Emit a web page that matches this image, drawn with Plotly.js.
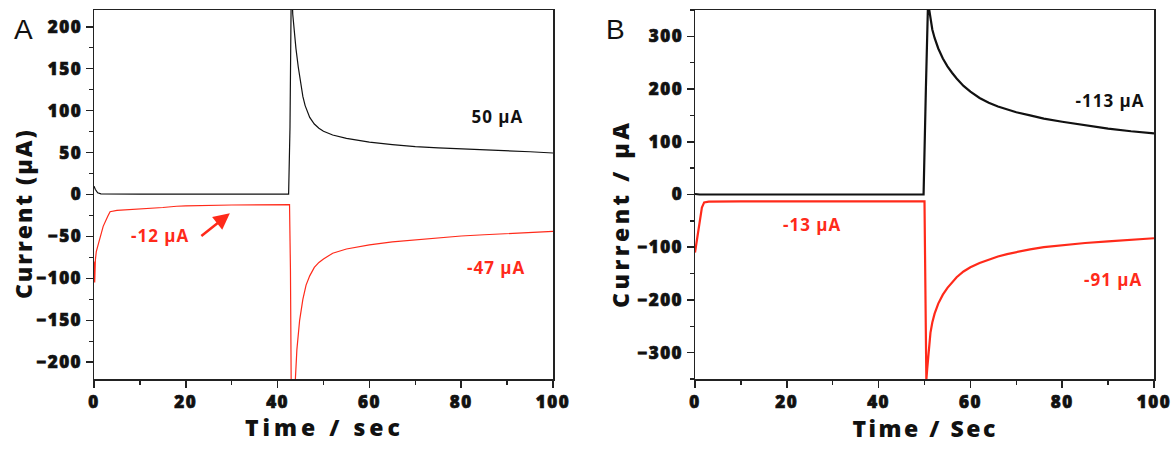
<!DOCTYPE html>
<html>
<head>
<meta charset="utf-8">
<script src="https://cdn.plot.ly/plotly-3.0.1.min.js"></script>
<style>
  html, body { margin: 0; padding: 0; background: #fff; }
  #chart { width: 1174px; height: 449px; }
  g[class*="tick"] > text, text[class*="tick"] { stroke: #111 !important; stroke-width: 0.7px !important; letter-spacing: 1.5px; }
  .annotation[data-index="0"] text { letter-spacing: 4px; }
  .annotation[data-index="1"] text { letter-spacing: 2.5px; }
  .annotation[data-index="2"] text { letter-spacing: 2px; }
  .annotation[data-index="3"] text { letter-spacing: 3.5px; }
  .annotation[data-index="6"] text, .annotation[data-index="7"] text, .annotation[data-index="8"] text,
  .annotation[data-index="10"] text, .annotation[data-index="11"] text, .annotation[data-index="12"] text { letter-spacing: 1px; }
</style>
</head>
<body>
<div id="chart"></div>
<script>
// ---- Panel A data (Time / sec, Current µA) ----
const tA_black = [0, 0.3, 0.8, 1.5, 10, 20, 30, 40, 42.4, 42.7, 43.0, 43.3, 43.7, 44, 44.5, 45, 45.5, 46, 47, 48, 49, 50, 52, 55, 60, 65, 70, 75, 80, 85, 90, 95, 100];
const iA_black = [10, 6, 2, 0.8, 0.5, 0.5, 0.5, 0.5, 0.5, 80, 260, 215, 190, 174, 152, 132, 117, 106, 92, 84, 79, 75.5, 71, 67, 62.5, 59.5, 57, 55.5, 54.5, 53, 52, 51, 49.5];

const tA_red = [0, 0.15, 0.3, 0.5, 1, 2, 3, 3.5, 5, 10, 15, 18, 20, 30, 42.6, 42.8, 43.0, 43.5, 43.8, 44.2, 44.8, 45.5, 46.2, 47, 48, 49, 50, 52, 55, 60, 65, 70, 75, 80, 85, 90, 95, 100];
const iA_red = [-80, -105, -78, -68, -58, -38, -26, -20.5, -19, -17.5, -15.5, -14, -13.5, -12.5, -12, -90, -260, -260, -220, -185, -150, -125, -108, -97, -87, -81, -77, -70, -65, -60, -56.5, -54, -51.5, -49.5, -48, -46.5, -45, -44];

// ---- Panel B data ----
const tB_black = [0, 1, 10, 20, 30, 40, 49.8, 50.3, 50.8, 51.0, 51.3, 51.7, 52.2, 53, 54, 55, 56, 57, 58.5, 60, 62, 64, 66, 68, 70, 73, 76, 80, 85, 90, 95, 100];
const iB_black = [1, 0, 0, 0, 0, 0, 0, 200, 375, 352, 332, 313, 297, 277, 258, 243, 231, 220, 206, 195, 183, 174, 167, 161, 156, 150, 144, 138, 131, 125, 120, 116];

const tB_red = [0, 0.5, 1, 1.5, 2, 3, 10, 20, 30, 40, 50, 50.1, 50.4, 50.6, 50.8, 51.0, 51.3, 51.7, 52.2, 53, 54, 55, 56, 57, 58.5, 60, 62, 64, 66, 68, 70, 73, 76, 80, 85, 90, 95, 100];
const iB_red = [-110, -80, -50, -25, -15, -13.5, -13, -13, -13, -13, -13, -100, -352, -330, -305, -285, -262, -243, -226, -207, -190, -177, -166, -157, -146, -138, -130, -123, -117.5, -113, -109, -104, -100, -96, -92, -89, -86, -83];

// ---- labels ----
const labelsA = ["50 μA", "-47 μA", "-12 μA"];
const labelsB = ["-113 μA", "-91 μA", "-13 μA"];
const xTitles = ["Time / sec", "Time / Sec"];
const yTitles = ["Current (μA)", "Current / μA"];
const panelLabels = ["A", "B"];

const RED = '#ff2a1a';
const BLACK = '#111111';
const FONT = 'Open Sans';

const traces = [
  { x: tA_black, y: iA_black, xaxis: 'x', yaxis: 'y', mode: 'lines', line: { color: BLACK, width: 1.2 }, hoverinfo: 'skip' },
  { x: tA_red, y: iA_red, xaxis: 'x', yaxis: 'y', mode: 'lines', line: { color: RED, width: 1.2 }, hoverinfo: 'skip' },
  { x: tB_black, y: iB_black, xaxis: 'x2', yaxis: 'y2', mode: 'lines', line: { color: BLACK, width: 2.2 }, hoverinfo: 'skip' },
  { x: tB_red, y: iB_red, xaxis: 'x2', yaxis: 'y2', mode: 'lines', line: { color: RED, width: 2.2 }, hoverinfo: 'skip' }
];

function tickFont() { return { family: FONT, size: 17, color: '#111', weight: 800 }; }
function xAxis(domain, anchor) {
  return {
    domain: domain, anchor: anchor, range: [0, 100], dtick: 20, tick0: 0,
    showline: true, mirror: true, linecolor: '#222', linewidth: 1.5,
    ticks: 'outside', ticklen: 7, tickwidth: 1.5, tickcolor: '#222',
    minor: { dtick: 10, ticks: 'outside', ticklen: 4, tickwidth: 1.5, tickcolor: '#222' },
    showgrid: false, zeroline: false, tickfont: tickFont()
  };
}
function yAxis(range, dtick, anchor) {
  return {
    domain: [0, 1], anchor: anchor, range: range, dtick: dtick, tick0: 0,
    showline: true, mirror: true, linecolor: '#222', linewidth: 1.5,
    ticks: 'outside', ticklen: 7, tickwidth: 1.5, tickcolor: '#222',
    minor: { dtick: dtick / 2, ticks: 'outside', ticklen: 4, tickwidth: 1.5, tickcolor: '#222' },
    showgrid: false, zeroline: false, tickfont: tickFont()
  };
}

function titleFont() { return { family: FONT, size: 23, color: '#111', weight: 800 }; }
function labFont(c) { return { family: FONT, size: 17, weight: 700, color: c }; }

const annotations = [
  { xref: 'paper', yref: 'paper', x: 0.2768, y: -0.130, text: xTitles[0], showarrow: false, font: titleFont(), xanchor: 'center', yanchor: 'middle' },
  { xref: 'paper', yref: 'paper', x: 0.7879, y: -0.133, text: xTitles[1], showarrow: false, font: titleFont(), xanchor: 'center', yanchor: 'middle' },
  { xref: 'paper', yref: 'paper', x: 0.0196, y: 0.447, text: yTitles[0], showarrow: false, font: titleFont(), textangle: -90, xanchor: 'center', yanchor: 'middle' },
  { xref: 'paper', yref: 'paper', x: 0.5281, y: 0.450, text: yTitles[1], showarrow: false, font: titleFont(), textangle: -90, xanchor: 'center', yanchor: 'middle' },
  { xref: 'paper', yref: 'paper', x: 0.0204, y: 0.946, text: panelLabels[0], showarrow: false, font: { family: 'Liberation Sans', size: 28, color: '#111' }, xanchor: 'center', yanchor: 'middle' },
  { xref: 'paper', yref: 'paper', x: 0.5239, y: 0.946, text: panelLabels[1], showarrow: false, font: { family: 'Liberation Sans', size: 28, color: '#111' }, xanchor: 'center', yanchor: 'middle' },
  { xref: 'x', yref: 'y', x: 87.8, y: 92.5, text: labelsA[0], showarrow: false, font: labFont(BLACK) },
  { xref: 'x', yref: 'y', x: 87.6, y: -86.5, text: labelsA[1], showarrow: false, font: labFont(RED) },
  { xref: 'x', yref: 'y', x: 14.4, y: -48.3, text: labelsA[2], showarrow: false, font: labFont(RED) },
  { xref: 'x', yref: 'y', x: 29.6, y: -22.4, ax: -30, ay: 24, text: '', showarrow: true, arrowhead: 2, arrowsize: 1.3, arrowwidth: 2.5, arrowcolor: RED },
  { xref: 'x2', yref: 'y2', x: 90.4, y: 179, text: labelsB[0], showarrow: false, font: labFont(BLACK) },
  { xref: 'x2', yref: 'y2', x: 91.1, y: -162, text: labelsB[1], showarrow: false, font: labFont(RED) },
  { xref: 'x2', yref: 'y2', x: 25.7, y: -56, text: labelsB[2], showarrow: false, font: labFont(RED) }
];

const layout = {
  width: 1174, height: 449,
  margin: { l: 0, r: 0, t: 10, b: 70 },
  paper_bgcolor: '#fff', plot_bgcolor: '#fff',
  showlegend: false,
  xaxis: xAxis([94 / 1174, 553 / 1174], 'y'),
  yaxis: yAxis([-220, 220], 50, 'x'),
  xaxis2: xAxis([695 / 1174, 1154 / 1174], 'y2'),
  yaxis2: yAxis([-350, 350], 100, 'x2'),
  annotations: annotations
};

Plotly.newPlot('chart', traces, layout, { displayModeBar: false, staticPlot: true });
</script>
</body>
</html>
